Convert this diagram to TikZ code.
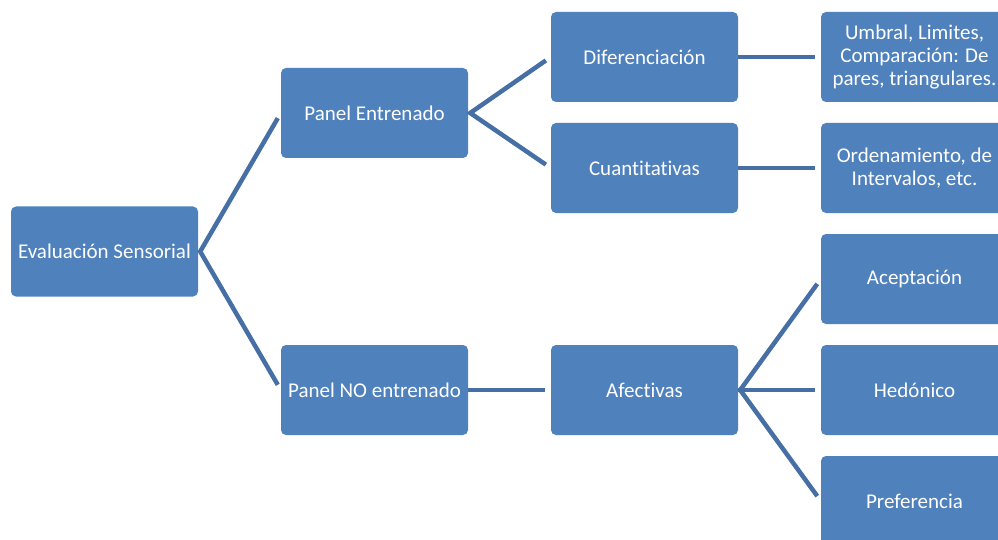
\documentclass[tikz,border=0pt]{standalone}
\usepackage{fontspec}
\setmainfont{Carlito}[Ligatures=NoCommon]
\definecolor{cajaazul}{RGB}{79,129,189}
\definecolor{lineaazul}{RGB}{70,111,165}
\begin{document}
\begin{tikzpicture}[x=1pt,y=-1pt,
  caja/.style={fill=cajaazul, text=white, rounded corners=5pt,
    minimum width=187pt, minimum height=90pt, inner sep=0pt,
    align=center, font=\fontsize{21}{23}\selectfont},
  rama/.style={draw=lineaazul, line width=4.5pt, shorten >=6pt},
  horquilla/.style={rama, shorten <=6pt, line join=miter}]
\clip (0,0) rectangle (998,540);
\useasboundingbox (0,0) rectangle (998,540);
% primera columna
\node[caja] (eval) at (104.5,251.5) {Evaluación Sensorial};
% segunda columna
\node[caja] (pe) at (374.5,113) {Panel Entrenado};
\node[caja] (pne) at (374.5,390) {Panel NO entrenado};
% tercera columna
\node[caja] (dif) at (644.5,57) {Diferenciación};
\node[caja] (cua) at (644.5,168) {Cuantitativas};
\node[caja] (afe) at (644.5,390) {Afectivas};
% cuarta columna
\node[caja] (umb) at (914.5,57) {Umbral, Limites,\\Comparación: De\\pares, triangulares.};
\node[caja] (ord) at (914.5,168) {Ordenamiento, de\\Intervalos, etc.};
\node[caja] (ace) at (914.5,279) {Aceptación};
\node[caja] (hed) at (914.5,390) {Hedónico};
\node[caja] (pre) at (914.5,501) {Preferencia};
% ramas
\draw[horquilla] (pe.west) -- ([xshift=2pt]eval.east) -- (pne.west);
\draw[horquilla] (dif.west) -- ([xshift=2pt]pe.east) -- (cua.west);
\draw[rama] (pne.east) -- (afe.west);
\draw[rama] (dif.east) -- (umb.west);
\draw[rama] (cua.east) -- (ord.west);
\draw[horquilla] (ace.west) -- ([xshift=2pt]afe.east) -- (pre.west);
\draw[rama] (afe.east) -- (hed.west);
\end{tikzpicture}
\end{document}
